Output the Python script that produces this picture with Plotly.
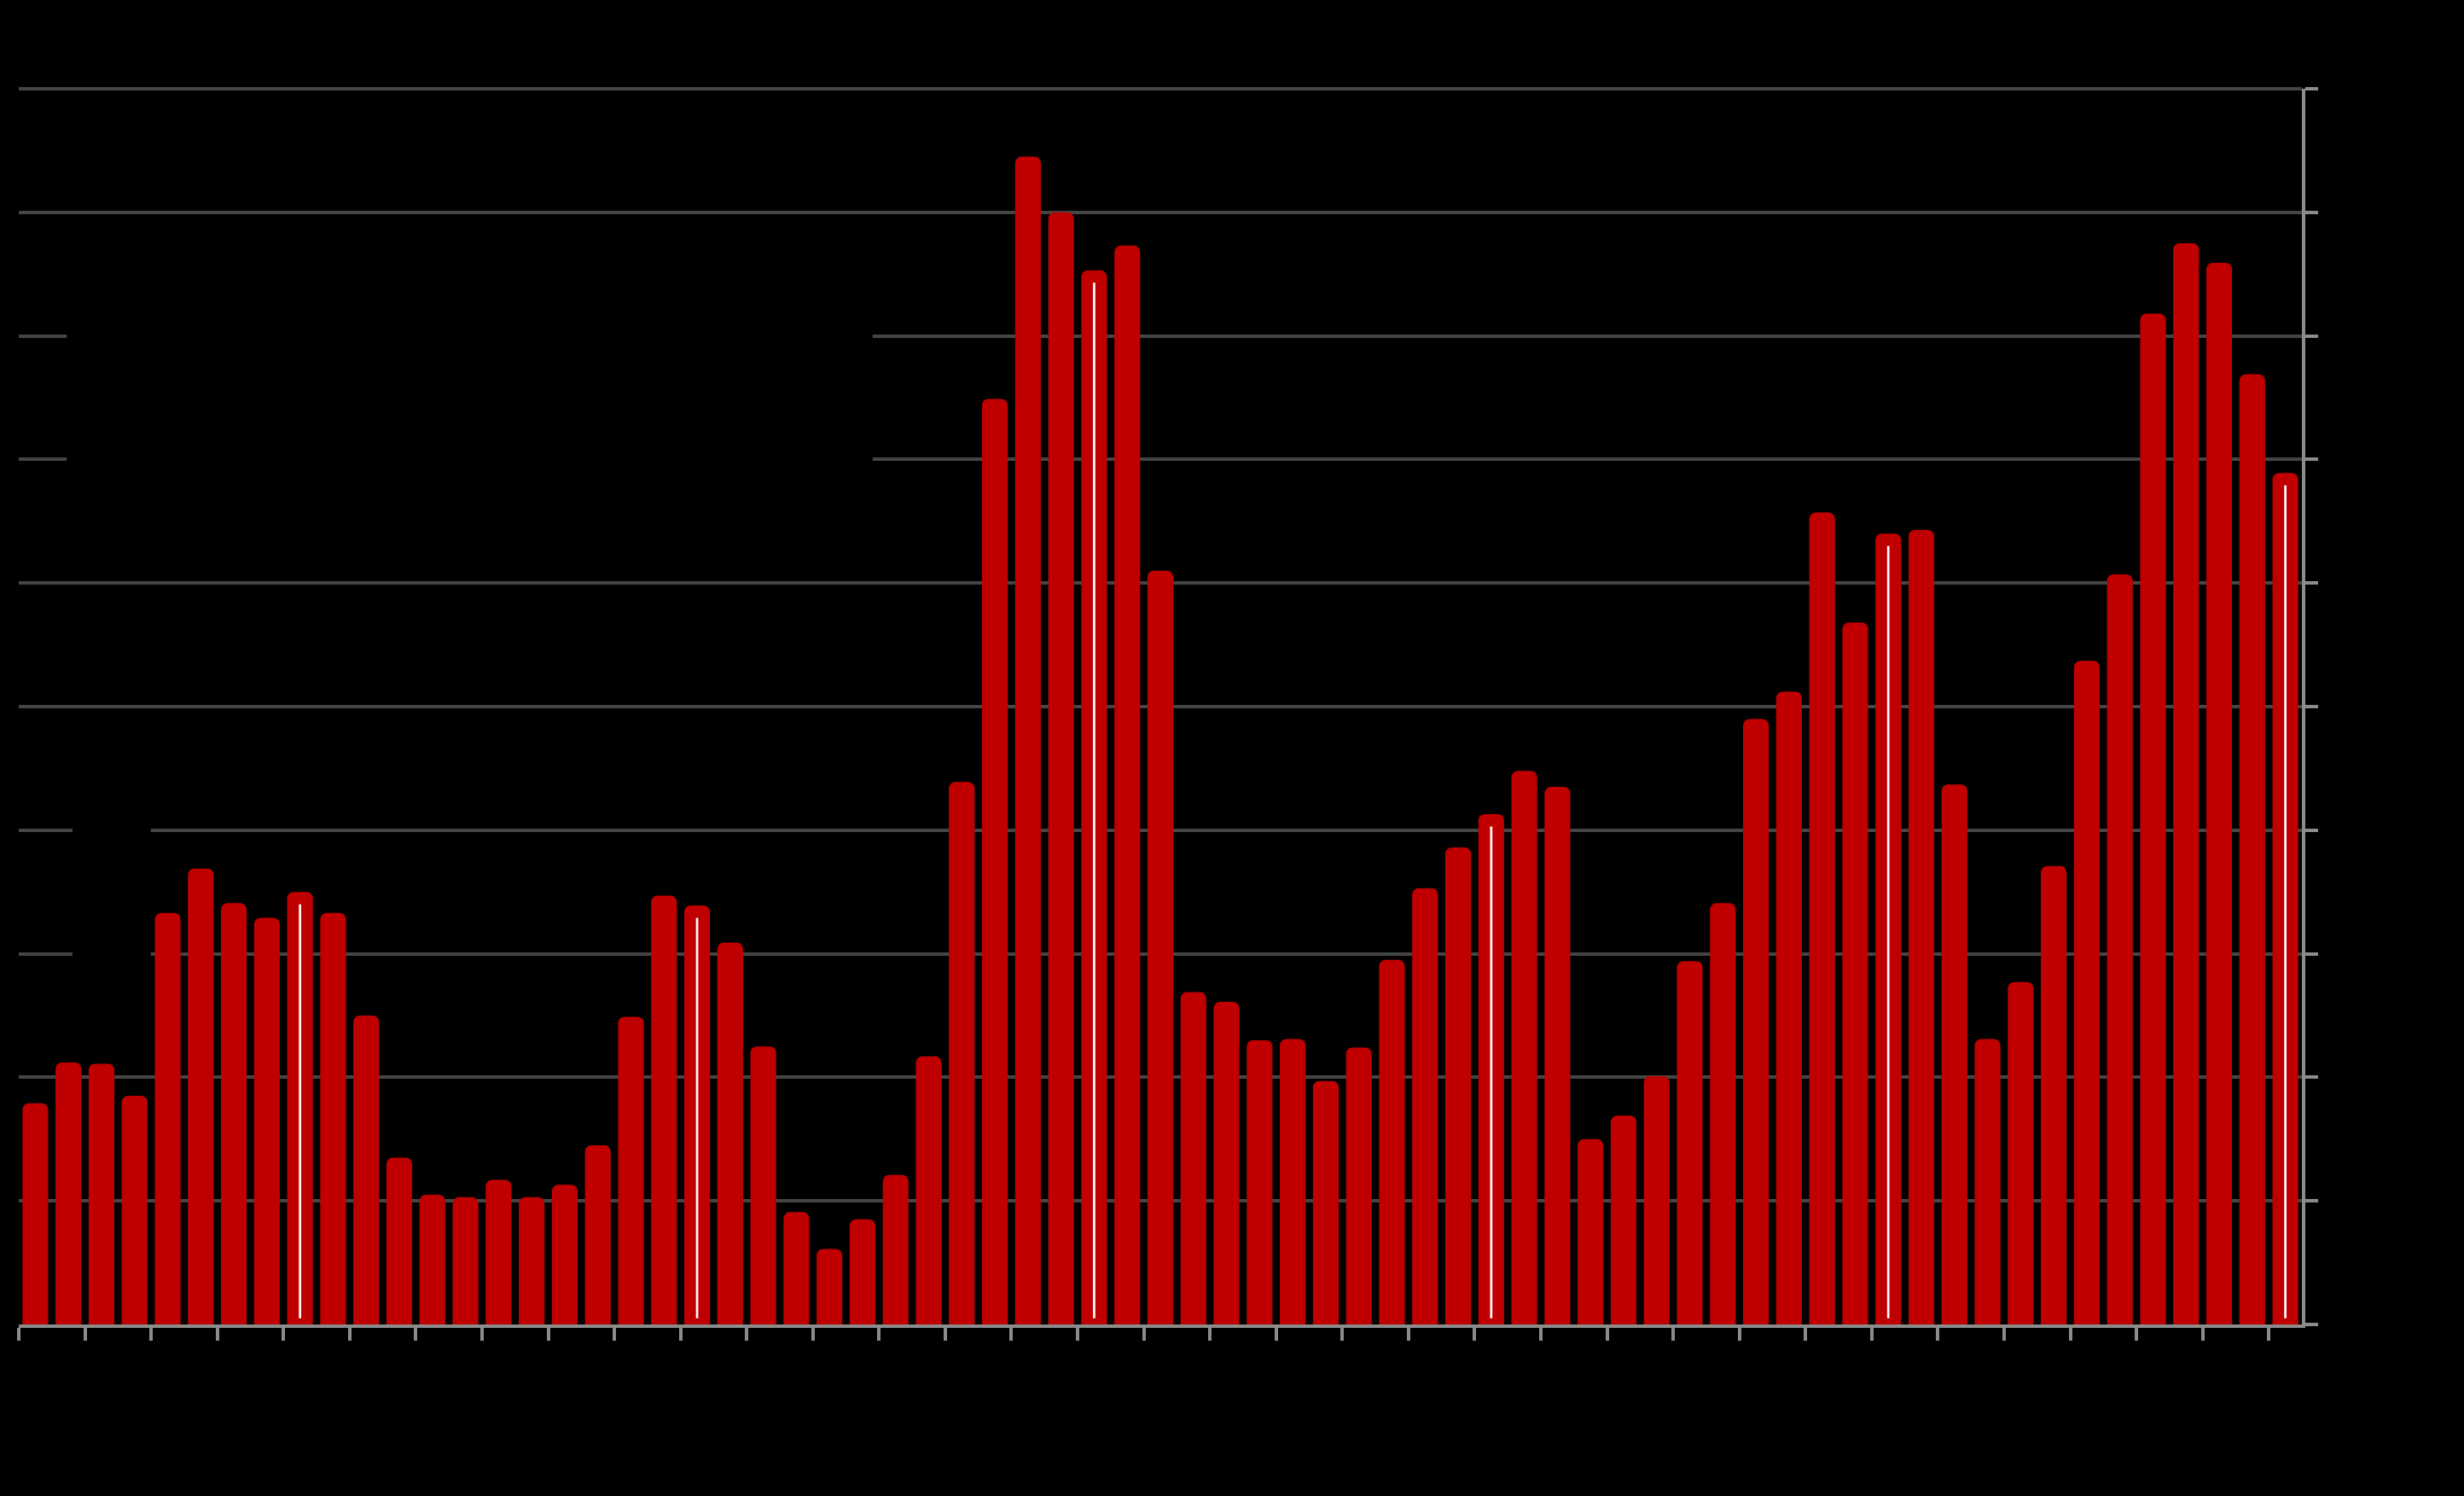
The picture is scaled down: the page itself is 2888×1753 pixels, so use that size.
import pandas as pd
import plotly.graph_objects as go

# monthly values, Apr 2018 .. Dec 2023 (gridline step = 10)
months = list(pd.date_range("2018-04-01", periods=69, freq="MS").strftime("%b %Y"))
values = [
    17.8, 21.1, 21.0, 18.4, 33.2, 36.8, 34.0, 32.8, 34.9, 33.2, 24.9, 13.4,
    10.4, 10.2, 11.6, 10.2, 11.2, 14.4, 24.8, 34.6, 33.8, 30.8, 22.4, 9.0,
    6.0, 8.4, 12.0, 21.6, 43.8, 74.8, 94.4, 89.9, 85.2, 87.2, 60.9, 26.8,
    26.0, 22.9, 23.0, 19.6, 22.3, 29.4, 35.2, 38.5, 41.2, 44.7, 43.4, 14.9,
    16.8, 20.0, 29.3, 34.0, 48.9, 51.1, 65.6, 56.7, 63.9, 64.2, 43.6, 23.0,
    27.6, 37.0, 53.6, 60.6, 81.7, 87.4, 85.8, 76.8, 68.8,
]
y_ticks = [0, 10, 20, 30, 40, 50, 60, 70, 80, 90, 100]

BAR_RED = "#C00000"
GRID = "#454545"
AXIS = "#8C8C8C"

# year-end months get a thin white marker inside the bar
dec_months = [m for m in months if m.startswith("Dec")]
dec_values = [v for m, v in zip(months, values) if m.startswith("Dec")]

fig = go.Figure()
fig.add_trace(
    go.Bar(
        x=months,
        y=values,
        name="Monthly value",
        width=0.7,
        marker=dict(color=BAR_RED, line=dict(color=BAR_RED, width=3), cornerradius=6),
    )
)
fig.add_trace(
    go.Bar(
        x=dec_months,
        y=[v - 1.4 for v in dec_values],
        base=0.5,
        name="Year end",
        width=0.07,
        marker=dict(color="white", line=dict(width=0)),
    )
)

fig.update_layout(
    template="plotly_white",
    width=2888,
    height=1753,
    barmode="overlay",
    showlegend=False,
    paper_bgcolor="black",
    plot_bgcolor="black",
    margin=dict(l=22, r=190, t=104, b=201),
    font=dict(family="Liberation Sans", size=28, color="black"),
    xaxis=dict(
        type="category",
        tickson="boundaries",
        dtick=2,
        ticks="outside",
        ticklen=15,
        tickwidth=4,
        tickcolor=AXIS,
        showgrid=False,
        showline=True,
        linecolor=AXIS,
        linewidth=4,
        tickangle=-90,
        tickfont=dict(color="black"),
    ),
    yaxis=dict(
        side="right",
        range=[0, 100],
        tickvals=y_ticks,
        showgrid=True,
        gridcolor=GRID,
        gridwidth=4,
        zeroline=False,
        showline=True,
        linecolor=AXIS,
        linewidth=4,
        ticks="outside",
        ticklen=15,
        tickwidth=4,
        tickcolor=AXIS,
        tickfont=dict(color="black"),
    ),
    shapes=[
        # top gridline (plotly drops the one sitting on the plot edge)
        dict(type="line", xref="paper", yref="paper", x0=0, x1=1, y0=1, y1=1,
             line=dict(color=GRID, width=4), layer="below"),
        dict(type="rect", xref="paper", yref="y", x0=0.021, x1=0.374, y0=64, y1=86,
             fillcolor="black", line=dict(width=0), layer="above"),
        dict(type="rect", xref="paper", yref="y", x0=0.0235, x1=0.0578, y0=25, y1=45,
             fillcolor="black", line=dict(width=0), layer="above"),
    ],
)

fig.write_html(
    "out.html",
    config={"displayModeBar": False},
    post_script="document.body.style.margin='0';document.body.style.background='black';",
)
